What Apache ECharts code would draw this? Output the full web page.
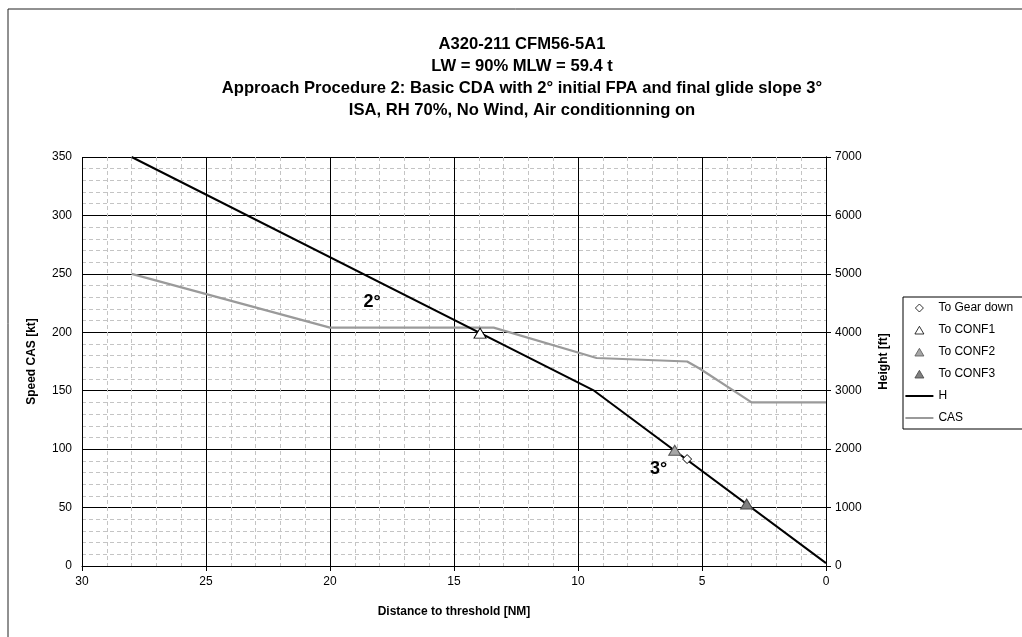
<!DOCTYPE html>
<html>
<head>
<meta charset="utf-8">
<script src="https://cdn.jsdelivr.net/npm/echarts@6/dist/echarts.min.js"></script>
<style>
  html, body { margin: 0; padding: 0; background: #fff; }
  #chart { width: 1022px; height: 637px; }
</style>
</head>
<body>
<div id="chart"></div>
<script>
// Height profile: 2° initial descent, then 3° final glide slope
const distH = [28, 9.35, 0];
const heightFt = [7000, 3000, 50];

// Calibrated airspeed along the approach
const distCAS = [28, 20, 13.4, 9.25, 5.6, 5.1, 3.0, 0];
const casKt = [250, 204, 204, 178, 175, 169, 140, 140];

// Configuration-change events (distance NM, height ft)
const eventNames = ['To Gear down', 'To CONF1', 'To CONF2', 'To CONF3'];
const eventDist = [5.6, 13.95, 6.1, 3.2];
const eventHeight = [1830, 3985, 1980, 1060];

// Flight-path-angle annotations (distance NM, speed kt)
const fpaLabels = ['2°', '3°'];
const fpaDist = [18.3, 6.75];
const fpaKt = [226, 83];

// Axis ticks
const xTicks = { min: 0, max: 30, interval: 5 };
const ktTicks = { min: 0, max: 350, interval: 50 };
const ftTicks = { min: 0, max: 7000, interval: 1000 };

const titleLines = [
  'A320-211 CFM56-5A1',
  'LW = 90% MLW = 59.4 t',
  'Approach Procedure 2: Basic CDA with 2° initial FPA and final glide slope 3°',
  'ISA, RH 70%, No Wind, Air conditionning on'
];

const FONT = '"Liberation Sans", Arial, sans-serif';

const eventStyles = [
  { symbol: 'diamond', size: [9, 9], fill: '#ffffff', stroke: '#000000' },
  { symbol: 'triangle', size: [12, 10], fill: '#ffffff', stroke: '#000000' },
  { symbol: 'triangle', size: [12, 10], fill: '#a6a6a6', stroke: '#555555' },
  { symbol: 'triangle', size: [12, 10], fill: '#808080', stroke: '#444444' }
];

// Legend glyphs: the leading moves span the whole 28x9 slot so the
// glyph keeps its own small size in the middle of the slot.
const SLOT = 'M0,0M28,9';
const legendIcons = {
  diamond: 'path://' + SLOT + 'M14,0.5L18,4.5L14,8.5L10,4.5Z',
  triangle: 'path://' + SLOT + 'M14,0.8L18.5,8.5L9.5,8.5Z',
  line: 'path://M0,0L28,0L28,2L0,2Z'
};

const zip = (a, b) => a.map((v, i) => [v, b[i]]);

const eventSeries = eventNames.map((name, i) => ({
  name: name,
  type: 'scatter',
  yAxisIndex: 1,
  symbol: eventStyles[i].symbol,
  symbolSize: eventStyles[i].size,
  itemStyle: { color: eventStyles[i].fill, borderColor: eventStyles[i].stroke, borderWidth: 1, opacity: 1 },
  z: 5,
  data: [[eventDist[i], eventHeight[i]]]
}));

const legendData = eventNames.map((name, i) => ({
  name: name,
  icon: legendIcons[eventStyles[i].symbol],
  itemStyle: { borderWidth: 0.8 }
})).concat([
  { name: 'H', icon: legendIcons.line },
  { name: 'CAS', icon: legendIcons.line }
]);

const chart = echarts.init(document.getElementById('chart'), null, { renderer: 'canvas' });

const axisCommon = {
  axisLine: { show: true, lineStyle: { color: '#000', width: 1 } },
  axisTick: { show: true, inside: false, length: 5, lineStyle: { color: '#000' } },
  axisLabel: { color: '#000', fontSize: 12, fontFamily: FONT },
  nameTextStyle: { color: '#000', fontSize: 12, fontWeight: 'bold', fontFamily: FONT }
};

const minorGrid = { show: true, lineStyle: { color: '#c4c4c4', type: [4, 3], width: 1 } };

chart.setOption({
  animation: false,
  backgroundColor: '#ffffff',
  textStyle: { fontFamily: FONT },
  graphic: [
    {
      type: 'rect',
      shape: { x: 8, y: 9, width: 1040, height: 660 },
      style: { fill: 'none', stroke: '#222', lineWidth: 1 },
      silent: true, z: -1
    },
    {
      type: 'text',
      x: 522, y: 33,
      style: {
        text: titleLines.join('\n'),
        align: 'center',
        verticalAlign: 'top',
        font: 'bold 16.6px ' + FONT,
        lineHeight: 22,
        fill: '#000'
      }
    }
  ],
  grid: { left: 82, right: 196, top: 157, bottom: 71, containLabel: false },
  legend: {
    orient: 'vertical',
    left: 903,
    top: 297,
    data: legendData,
    itemWidth: 28,
    itemHeight: 9,
    itemGap: 10,
    padding: [5, 30, 5, 2],
    borderColor: '#000',
    borderWidth: 1,
    textStyle: { color: '#000', fontSize: 12, fontFamily: FONT }
  },
  xAxis: Object.assign({}, axisCommon, {
    type: 'value',
    inverse: true,
    min: xTicks.min, max: xTicks.max, interval: xTicks.interval,
    name: 'Distance to threshold [NM]',
    nameLocation: 'middle',
    nameGap: 40,
    axisLabel: Object.assign({}, axisCommon.axisLabel, { margin: 10 }),
    splitLine: { show: true, lineStyle: { color: '#000', width: 1 } },
    minorTick: { show: false, splitNumber: 5 },
    minorSplitLine: minorGrid
  }),
  yAxis: [
    Object.assign({}, axisCommon, {
      type: 'value',
      position: 'left',
      min: ktTicks.min, max: ktTicks.max, interval: ktTicks.interval,
      name: 'Speed CAS [kt]',
      nameLocation: 'middle',
      nameRotate: 90,
      nameGap: 44,
      axisLabel: Object.assign({}, axisCommon.axisLabel, { margin: 10 }),
      splitLine: { show: true, lineStyle: { color: '#000', width: 1 } },
      minorTick: { show: false, splitNumber: 5 },
      minorSplitLine: minorGrid
    }),
    Object.assign({}, axisCommon, {
      type: 'value',
      position: 'right',
      min: ftTicks.min, max: ftTicks.max, interval: ftTicks.interval,
      name: 'Height [ft]',
      nameLocation: 'middle',
      nameRotate: 90,
      nameGap: 52,
      axisLabel: Object.assign({}, axisCommon.axisLabel, { margin: 9, formatter: v => String(v) }),
      splitLine: { show: false }
    })
  ],
  series: eventSeries.concat([
    {
      name: 'H',
      type: 'line',
      yAxisIndex: 1,
      symbol: 'none',
      lineStyle: { color: '#000', width: 2 },
      itemStyle: { color: '#000' },
      z: 3,
      data: zip(distH, heightFt)
    },
    {
      name: 'CAS',
      type: 'line',
      yAxisIndex: 0,
      symbol: 'none',
      lineStyle: { color: '#9a9a9a', width: 2.2 },
      itemStyle: { color: '#9a9a9a' },
      z: 2,
      data: zip(distCAS, casKt)
    },
    {
      name: 'FPA',
      type: 'scatter',
      yAxisIndex: 0,
      symbolSize: 0,
      silent: true,
      z: 6,
      itemStyle: { opacity: 1 },
      label: {
        show: true,
        position: 'inside',
        formatter: p => fpaLabels[p.dataIndex],
        color: '#000',
        fontSize: 18,
        fontWeight: 'bold',
        fontFamily: FONT
      },
      data: zip(fpaDist, fpaKt)
    }
  ])
});
</script>
</body>
</html>
